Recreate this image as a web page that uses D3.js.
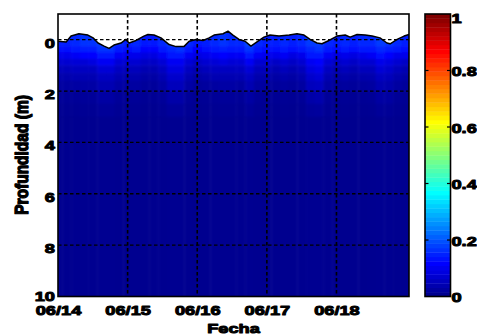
<!DOCTYPE html>
<html>
<head>
<meta charset="utf-8">
<script src="https://cdn.jsdelivr.net/npm/d3@7"></script>
<style>
  html, body { margin: 0; padding: 0; background: #fff; }
  svg { display: block; }
  text { font-family: "Liberation Sans", Arial, sans-serif; font-weight: bold; fill: #000; stroke: #000; stroke-width: 1px; stroke-linejoin: round; }
</style>
</head>
<body>
<svg id="chart" width="477" height="336"></svg>
<script>
// ---- data ----------------------------------------------------------------
// Time axis (hours from 06/14 00:00) and its date labels
const dateTickHours = [0, 24, 48, 72, 96];
const dateTickLabels = ["06/14", "06/15", "06/16", "06/17", "06/18"];
const depthTicks = [0, 2, 4, 6, 8, 10];
const colorTicks = [0, 0.2, 0.4, 0.6, 0.8, 1];
const colorTickLabels = ["0", "0.2", "0.4", "0.6", "0.8", "1"];

// Free-surface position (depth in m, negative = above reference level)
const surfaceHours = [0, 2.8, 4.5, 7.2, 10.3, 12.1, 13.8, 15.9, 17.6, 19.3, 21.7, 23.4, 24.5, 26.9,
  29.6, 31.0, 33.1, 35.5, 38.3, 40.7, 43.4, 45.2, 47.6, 50.0, 52.1, 53.8, 56.9, 58.6, 60.3, 62.4,
  64.5, 66.5, 68.6, 71.0, 73.1, 76.2, 79.7, 82.4, 84.8, 86.9, 89.3, 91.0, 93.4, 96.2, 99.0, 100.7,
  103.1, 105.9, 108.3, 111.0, 113.4, 114.5, 116.9, 119.3, 121];
const surfaceDepth = [0.06, 0.09, -0.14, -0.23, -0.18, -0.07, 0.13, 0.25, 0.34, 0.21, 0.13, -0.01, 0.13, 0.03,
  -0.14, -0.20, -0.18, -0.07, 0.19, 0.27, 0.27, 0.06, -0.01, 0.03, -0.07, -0.18, -0.23, -0.33, -0.18, -0.01,
  0.06, 0.25, 0.09, -0.10, -0.18, -0.14, -0.18, -0.23, -0.18, -0.01, 0.13, 0.16, 0.03, -0.14, -0.18, -0.10,
  -0.20, -0.18, -0.14, -0.07, 0.13, 0.16, -0.01, -0.14, -0.20];

// Grid of the measured field: columns every 3 h, rows between depth edges
const gridHours = [0, 3, 6, 9, 12, 15, 18, 21, 24, 27, 30, 33, 36, 39, 42, 45, 48, 51, 54, 57, 60,
  63, 66, 69, 72, 75, 78, 81, 84, 87, 90, 93, 96, 99, 102, 105, 108, 111, 114, 117, 120];
const depthEdges = [-1, 0.25, 0.5, 0.75, 1.0, 1.3, 1.6, 2.0, 2.5, 3.0, 10];
const fieldRows = [
  [0.14,0.14,0.15,0.16,0.16,0.17,0.17,0.15,0.14,0.15,0.13,0.13,0.15,0.17,0.17,0.15,0.13,0.14,0.15,0.16,0.15,0.15,0.18,0.15,0.14,0.14,0.15,0.14,0.15,0.17,0.17,0.15,0.14,0.15,0.14,0.15,0.15,0.17,0.16,0.15,0.14],
  [0.12,0.12,0.13,0.14,0.14,0.16,0.16,0.13,0.12,0.13,0.11,0.11,0.13,0.15,0.16,0.13,0.11,0.12,0.13,0.14,0.13,0.13,0.16,0.13,0.12,0.12,0.13,0.12,0.13,0.15,0.16,0.13,0.12,0.13,0.12,0.13,0.13,0.15,0.14,0.13,0.12],
  [0.09,0.09,0.10,0.11,0.11,0.13,0.13,0.10,0.09,0.09,0.08,0.08,0.10,0.13,0.13,0.10,0.08,0.09,0.10,0.11,0.10,0.10,0.13,0.10,0.09,0.09,0.10,0.08,0.09,0.13,0.13,0.10,0.08,0.09,0.08,0.09,0.10,0.12,0.11,0.09,0.09],
  [0.065,0.065,0.07,0.07,0.08,0.10,0.10,0.07,0.065,0.065,0.055,0.055,0.07,0.10,0.10,0.07,0.055,0.065,0.07,0.08,0.07,0.07,0.10,0.065,0.065,0.055,0.065,0.055,0.065,0.10,0.11,0.07,0.055,0.065,0.055,0.065,0.065,0.09,0.08,0.065,0.055],
  [0.045,0.045,0.05,0.05,0.05,0.07,0.07,0.05,0.045,0.045,0.035,0.035,0.05,0.08,0.08,0.05,0.035,0.045,0.05,0.05,0.05,0.05,0.07,0.045,0.045,0.035,0.045,0.035,0.045,0.08,0.09,0.05,0.035,0.045,0.035,0.045,0.045,0.07,0.06,0.045,0.035],
  [0.03,0.03,0.035,0.035,0.035,0.05,0.05,0.035,0.03,0.03,0.022,0.022,0.035,0.06,0.06,0.035,0.022,0.028,0.035,0.035,0.035,0.035,0.05,0.03,0.028,0.022,0.028,0.022,0.03,0.06,0.07,0.035,0.022,0.028,0.022,0.028,0.03,0.05,0.045,0.03,0.022],
  [0.018,0.018,0.02,0.022,0.022,0.035,0.035,0.022,0.018,0.018,0.012,0.012,0.022,0.045,0.045,0.022,0.012,0.015,0.018,0.022,0.022,0.018,0.035,0.018,0.015,0.012,0.015,0.012,0.018,0.045,0.05,0.022,0.012,0.015,0.012,0.015,0.018,0.035,0.03,0.018,0.012],
  [0.008,0.008,0.008,0.01,0.01,0.02,0.02,0.01,0.008,0.008,0.005,0.005,0.01,0.025,0.025,0.01,0.005,0.006,0.008,0.01,0.01,0.008,0.02,0.008,0.006,0.005,0.006,0.005,0.008,0.025,0.03,0.01,0.005,0.006,0.005,0.006,0.008,0.02,0.018,0.008,0.005],
  [0.004,0.004,0.004,0.005,0.005,0.01,0.01,0.005,0.004,0.004,0.002,0.002,0.005,0.012,0.012,0.005,0.002,0.003,0.004,0.005,0.005,0.004,0.01,0.004,0.003,0.002,0.003,0.002,0.004,0.012,0.014,0.005,0.002,0.003,0.002,0.003,0.004,0.01,0.008,0.004,0.002],
  [0.001,0.001,0.001,0.001,0.001,0.002,0.002,0.001,0.001,0.001,0.0,0.0,0.001,0.002,0.002,0.001,0.0,0.0,0.001,0.001,0.001,0.001,0.002,0.001,0.0,0.0,0.0,0.0,0.001,0.002,0.002,0.001,0.0,0.0,0.0,0.0,0.001,0.002,0.002,0.001,0.0]
];

// ---- layout ----------------------------------------------------------------
const svg = d3.select("#chart");
const plot = { left: 58, right: 409, top: 14, bottom: 296.5 };
const bar = { left: 425, right: 450.5 };
const SX = 1.35;     // horizontal widening of the bold labels
const FS = 13.5;     // label font size

const x = d3.scaleLinear().domain([0, 121]).range([plot.left, plot.right]);
const y = d3.scaleLinear().domain([-1, 10]).range([plot.top, plot.bottom]);
const cb = d3.scaleLinear().domain([0, 1]).range([plot.bottom, plot.top]);

// MATLAB-style "jet" colour map
const jet = d3.scaleLinear()
  .domain([0, 0.111, 0.365, 0.619, 0.873, 1])
  .range(["#00008f", "#0000ff", "#00ffff", "#ffff00", "#ff0000", "#800000"])
  .clamp(true);

const defs = svg.append("defs");
defs.append("clipPath").attr("id", "plotClip")
  .append("rect")
  .attr("x", plot.left).attr("y", plot.top)
  .attr("width", plot.right - plot.left).attr("height", plot.bottom - plot.top);
defs.append("filter").attr("id", "soft")
  .attr("x", "-5%").attr("y", "-5%").attr("width", "110%").attr("height", "110%")
  .append("feGaussianBlur").attr("stdDeviation", 1.0);

// ---- heat map --------------------------------------------------------------
const cells = [];
fieldRows.forEach((row, r) => {
  row.forEach((v, c) => {
    const h = gridHours[c];
    const h0 = c === 0 ? -4 : h - 1.5;
    const h1 = c === gridHours.length - 1 ? 125 : h + 1.5;
    const d0 = r === 0 ? -1.5 : depthEdges[r];
    const d1 = r === fieldRows.length - 1 ? 11 : depthEdges[r + 1];
    cells.push({ h0, h1, d0, d1, v });
  });
});

const clipped = svg.append("g").attr("clip-path", "url(#plotClip)");
clipped.append("g").attr("filter", "url(#soft)")
  .selectAll("rect").data(cells).enter().append("rect")
  .attr("x", d => x(d.h0))
  .attr("y", d => y(d.d0))
  .attr("width", d => x(d.h1) - x(d.h0) + 0.5)
  .attr("height", d => y(d.d1) - y(d.d0) + 0.5)
  .attr("fill", d => jet(d.v));

// air above the free surface
const surface = surfaceHours.map((h, i) => ({ h, d: surfaceDepth[i] }));
clipped.append("path")
  .datum(surface)
  .attr("fill", "#fff")
  .attr("d", d3.area().x(d => x(d.h)).y0(y(-1) - 2).y1(d => y(d.d)));

// ---- grid ------------------------------------------------------------------
const grid = svg.append("g").attr("stroke", "#000").attr("stroke-dasharray", "3.5,2.5");
grid.selectAll("line.v").data(dateTickHours.slice(1)).enter().append("line")
  .attr("x1", d => x(d)).attr("x2", d => x(d))
  .attr("y1", plot.top).attr("y2", plot.bottom)
  .attr("stroke-width", 1.6);
grid.selectAll("line.h").data(depthTicks.slice(0, -1)).enter().append("line")
  .attr("x1", plot.left).attr("x2", plot.right)
  .attr("y1", d => y(d)).attr("y2", d => y(d))
  .attr("stroke-width", 1.3);

// surface line
clipped.append("path")
  .datum(surface)
  .attr("fill", "none")
  .attr("stroke", "#000")
  .attr("stroke-width", 1.5)
  .attr("stroke-linejoin", "round")
  .attr("d", d3.line().x(d => x(d.h)).y(d => y(d.d)));

// frame
svg.append("rect")
  .attr("x", plot.left).attr("y", plot.top)
  .attr("width", plot.right - plot.left).attr("height", plot.bottom - plot.top)
  .attr("fill", "none").attr("stroke", "#000").attr("stroke-width", 1.6);

// ---- axes ------------------------------------------------------------------
const xAxis = svg.append("g")
  .attr("transform", `translate(0,${plot.bottom})`)
  .call(d3.axisBottom(x).tickValues(dateTickHours).tickFormat((d, i) => dateTickLabels[i]).tickSize(0));
xAxis.select(".domain").remove();
xAxis.selectAll("text")
  .attr("y", 0).attr("dy", null)
  .attr("font-size", FS)
  .attr("transform", `translate(0,18.5) scale(${SX},1)`);

const yAxis = svg.append("g")
  .attr("transform", `translate(${plot.left},0)`)
  .call(d3.axisLeft(y).tickValues(depthTicks).tickSize(0));
yAxis.select(".domain").remove();
yAxis.selectAll("text")
  .attr("x", 0).attr("dy", null)
  .attr("font-size", FS)
  .attr("text-anchor", "end")
  .attr("transform", d => `translate(-3,${d === 10 ? 3.5 : 7.5}) scale(${SX},1)`);

// axis titles
svg.append("text")
  .attr("font-size", FS)
  .attr("text-anchor", "middle")
  .attr("transform", `translate(${(plot.left + plot.right) / 2},333) scale(${SX},1)`)
  .text("Fecha");
svg.append("text")
  .attr("font-size", FS)
  .attr("text-anchor", "middle")
  .attr("transform", `translate(28,155) rotate(-90) scale(1.15,${SX})`)
  .text("Profundidad (m)");

// ---- colour bar ------------------------------------------------------------
const nLevels = 64;
const levels = d3.range(nLevels).map(i => i / nLevels);
svg.append("g").selectAll("rect").data(levels).enter().append("rect")
  .attr("x", bar.left)
  .attr("y", d => cb(d + 1 / nLevels))
  .attr("width", bar.right - bar.left)
  .attr("height", d => cb(d) - cb(d + 1 / nLevels) + 0.4)
  .attr("fill", d => jet(d * nLevels / (nLevels - 1)));

const cbTickG = svg.append("g").attr("stroke", "#000").attr("stroke-width", 1.2);
cbTickG.selectAll("line.l").data(colorTicks.slice(1, -1)).enter().append("line")
  .attr("x1", bar.left).attr("x2", bar.left + 3.5)
  .attr("y1", d => cb(d)).attr("y2", d => cb(d));
cbTickG.selectAll("line.r").data(colorTicks.slice(1, -1)).enter().append("line")
  .attr("x1", bar.right - 3.5).attr("x2", bar.right)
  .attr("y1", d => cb(d)).attr("y2", d => cb(d));

svg.append("rect")
  .attr("x", bar.left).attr("y", plot.top)
  .attr("width", bar.right - bar.left).attr("height", plot.bottom - plot.top)
  .attr("fill", "none").attr("stroke", "#000").attr("stroke-width", 1.6);

const cAxis = svg.append("g")
  .attr("transform", `translate(${bar.right},0)`)
  .call(d3.axisRight(cb).tickValues(colorTicks).tickFormat((d, i) => colorTickLabels[i]).tickSize(0));
cAxis.select(".domain").remove();
cAxis.selectAll("text")
  .attr("x", 0).attr("dy", null)
  .attr("font-size", FS)
  .attr("text-anchor", "start")
  .attr("transform", d => `translate(1,${d === 1 ? 8 : 5}) scale(${SX},1)`);
</script>
</body>
</html>
